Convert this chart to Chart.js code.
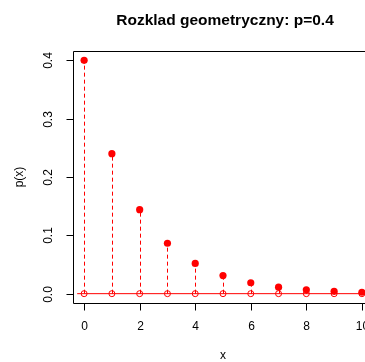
<!DOCTYPE html>
<html>
<head>
<meta charset="utf-8">
<script src="https://cdn.jsdelivr.net/npm/chart.js@4/dist/chart.umd.min.js"></script>
<style>
html,body{margin:0;padding:0;background:#fff;overflow:hidden;width:365px;height:362px;}
canvas{display:block;}
</style>
</head>
<body>
<canvas id="c" width="400" height="362" style="width:400px;height:362px"></canvas>
<script>
const xs = [0,1,2,3,4,5,6,7,8,9,10];
const probs = [0.4, 0.24, 0.144, 0.0864, 0.0518, 0.0311, 0.0187, 0.0112, 0.0067, 0.0040, 0.0024];
const xTicks = [0,2,4,6,8,10];
const yTicks = [0.0,0.1,0.2,0.3,0.4];
const yTickLabels = ["0.0","0.1","0.2","0.3","0.4"];
const title = "Rozklad geometryczny: p=0.4";
const xLabel = "x";
const yLabel = "p(x)";

const RED = "#ff0000";
const FONT = "'Liberation Sans', Arial, Helvetica, sans-serif";

const stems = {
  id: 'stems',
  beforeDatasetsDraw(chart) {
    const {ctx, scales:{x, y}, chartArea} = chart;
    ctx.save();
    ctx.beginPath();
    ctx.rect(chartArea.left, chartArea.top, chartArea.right-chartArea.left, chartArea.bottom-chartArea.top);
    ctx.clip();
    ctx.strokeStyle = RED;
    ctx.lineWidth = 1;
    ctx.setLineDash([4,3]);
    xs.forEach((xv,i)=>{
      const px = Math.round(x.getPixelForValue(xv)) + 0.5;
      ctx.beginPath();
      ctx.moveTo(px, y.getPixelForValue(0));
      ctx.lineTo(px, y.getPixelForValue(probs[i]));
      ctx.stroke();
    });
    ctx.restore();
  }
};

const axes = {
  id: 'axes',
  afterDraw(chart) {
    const {ctx, scales:{x, y}, chartArea:a} = chart;
    ctx.save();
    ctx.strokeStyle = "#000";
    ctx.lineWidth = 1;
    ctx.setLineDash([]);
    const L = Math.round(a.left)+0.5, T = Math.round(a.top)+0.5, B = Math.round(a.bottom)+0.5, R = Math.round(a.right)+0.5;
    ctx.beginPath();
    ctx.moveTo(R, T); ctx.lineTo(L, T); ctx.lineTo(L, B); ctx.lineTo(R, B);
    ctx.stroke();
    ctx.fillStyle = "#000";
    ctx.font = "12px " + FONT;
    ctx.textAlign = "center"; ctx.textBaseline = "middle";
    xTicks.forEach(v=>{
      const px = Math.round(x.getPixelForValue(v))+0.5;
      ctx.beginPath(); ctx.moveTo(px, B); ctx.lineTo(px, B+7); ctx.stroke();
      ctx.fillText(String(v), px, 327);
    });
    yTicks.forEach((v,i)=>{
      const py = Math.round(y.getPixelForValue(v))+0.5;
      ctx.beginPath(); ctx.moveTo(L, py); ctx.lineTo(L-7, py); ctx.stroke();
      ctx.save();
      ctx.translate(49, py);
      ctx.rotate(-Math.PI/2);
      ctx.fillText(yTickLabels[i], 0, 0);
      ctx.restore();
    });
    ctx.fillText(xLabel, (a.left + a.right)/2, 356);
    ctx.save();
    ctx.translate(20, (a.top+a.bottom)/2);
    ctx.rotate(-Math.PI/2);
    ctx.fillText(yLabel, 0, 0);
    ctx.restore();
    ctx.font = "bold 15.5px " + FONT;
    ctx.textBaseline = "alphabetic";
    ctx.fillText(title, 225, 25);
    ctx.restore();
  }
};

new Chart(document.getElementById('c'), {
  type: 'scatter',
  data: {
    datasets: [
      {
        type: 'line',
        data: [{x:-0.25,y:0},{x:11,y:0}],
        borderColor: RED, borderWidth: 1, pointRadius: 0, fill: false
      },
      {
        data: xs.map(v=>({x:v,y:0})),
        pointRadius: 3, pointBorderWidth: 1,
        pointBackgroundColor: 'rgba(0,0,0,0)', pointBorderColor: RED
      },
      {
        data: xs.map((v,i)=>({x:v,y:probs[i]})),
        pointRadius: 3.6, pointBorderWidth: 0,
        pointBackgroundColor: RED, pointBorderColor: RED
      }
    ]
  },
  options: {
    responsive: false,
    animation: false,
    devicePixelRatio: 1,
    layout: { padding: { left: 73, top: 51, right: 400-373, bottom: 362-303 } },
    plugins: { legend: {display:false}, tooltip: {enabled:false} },
    scales: {
      x: { type:'linear', min:-0.4, max:10.4, display:false },
      y: { type:'linear', min:-0.016, max:0.416, display:false }
    }
  },
  plugins: [stems, axes]
});
</script>
</body>
</html>
